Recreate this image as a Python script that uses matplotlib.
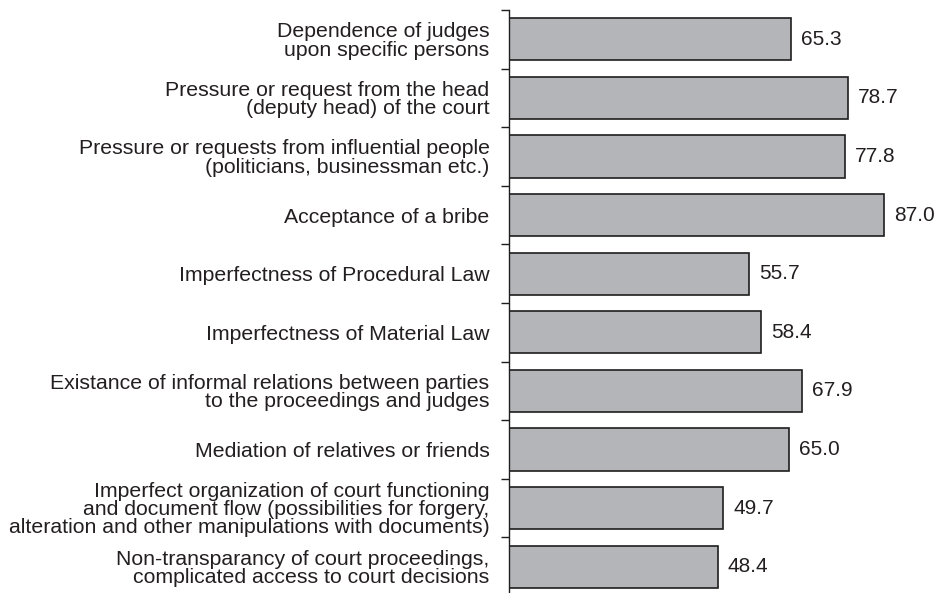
import numpy as np
import matplotlib.pyplot as plt

plt.rcParams['font.family'] = ['Liberation Sans', 'DejaVu Sans']

# categories, top to bottom
labels = [
    "Dependence of judges\nupon specific persons",
    "Pressure or request from the head\n(deputy head) of the court",
    "Pressure or requests from influential people\n(politicians, businessman etc.)",
    "Acceptance of a bribe",
    "Imperfectness of Procedural Law",
    "Imperfectness of Material Law",
    "Existance of informal relations between parties\nto the proceedings and judges",
    "Mediation of relatives or friends",
    "Imperfect organization of court functioning\nand document flow (possibilities for forgery,\nalteration and other manipulations with documents)",
    "Non-transparancy of court proceedings,\ncomplicated access to court decisions",
]
values = [65.3, 78.7, 77.8, 87.0, 55.7, 58.4, 67.9, 65.0, 49.7, 48.4]

txt = '#231f20'

fig = plt.figure(figsize=(9.36, 5.93), dpi=100)
ax = fig.add_axes([509/936, -3/593, 1 - 509/936, 586/593])

y = np.arange(len(values))
ax.barh(y, values, height=0.72, color='#b4b5b9', edgecolor='#1e1e1e', linewidth=1.2)

for yi, v in zip(y, values):
    ax.text(v + 2.3, yi, f"{v:.1f}", va='center', ha='left', fontsize=15, color=txt)

ax.set_ylim(len(values) - 0.5, -0.5)
ax.set_xlim(0, 99)

ax.set_yticks(y)
ax.set_yticklabels(labels, fontsize=15.3, color=txt, linespacing=0.95)
ax.tick_params(axis='y', which='major', length=0, pad=14)
ax.set_yticks(np.arange(-0.5, len(values)), minor=True)
ax.tick_params(axis='y', which='minor', length=6, width=1, color='#1e1e1e')

ax.set_xticks([])
for s in ['top', 'right', 'bottom']:
    ax.spines[s].set_visible(False)
ax.spines['left'].set_color('#1e1e1e')
ax.spines['left'].set_linewidth(1)

fig.savefig('out.png', dpi=100)
